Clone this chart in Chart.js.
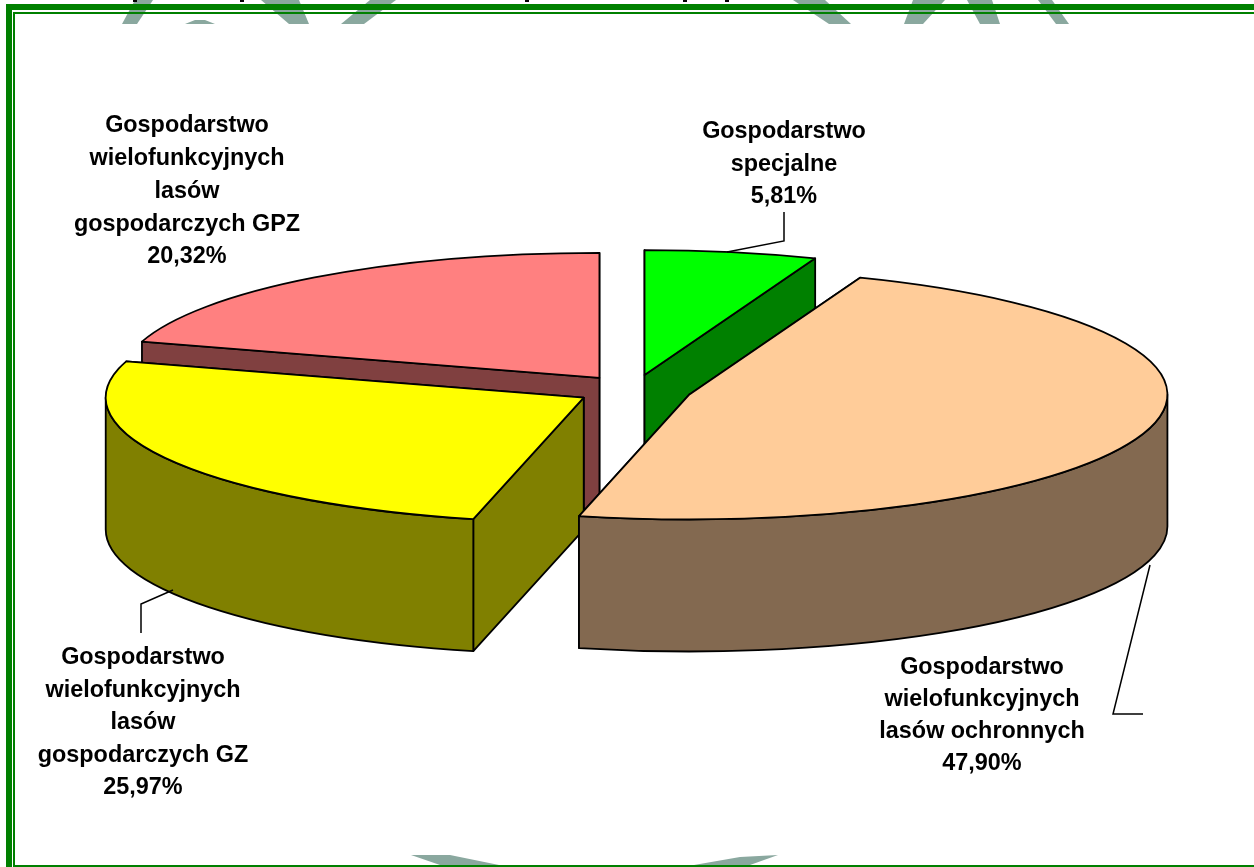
<!DOCTYPE html>
<html lang="pl">

<head>
    <meta charset="UTF-8">
    <title>Gospodarstwa</title>
    <script src="https://cdn.jsdelivr.net/npm/chart.js"></script>
    <style>
        html, body {
            margin: 0;
            background: #ffffff;
            overflow: hidden;
        }

        canvas {
            display: block;
        }
    </style>
</head>

<body>
    <canvas id="pieChart" width="1254" height="867"></canvas>

    <script>
        // slices clockwise from the top
        const categoryLines = [
            ['Gospodarstwo', 'specjalne'],
            ['Gospodarstwo', 'wielofunkcyjnych', 'lasów ochronnych'],
            ['Gospodarstwo', 'wielofunkcyjnych', 'lasów', 'gospodarczych GZ'],
            ['Gospodarstwo', 'wielofunkcyjnych', 'lasów', 'gospodarczych GPZ']
        ];
        const shares = [5.81, 47.90, 25.97, 20.32];
        const topColors = ['#00ff00', '#ffcc99', '#ffff00', '#ff8080'];
        const wallColors = ['#008000', '#836950', '#808000', '#804040'];

        // 3D look of the pie
        const TILT = 0.2615;
        const DEPTH = 132;
        const EXPLODE = 58;
        const LINE = 1.8;
        // back slices go first so the front ones cover them
        const paintOrder = [3, 0, 2, 1];

        // where each label block goes: centre x, y of first line, line height
        const labelPlace = [
            { x: 784, y: 132, step: 32.5 },
            { x: 982, y: 668, step: 32 },
            { x: 143, y: 658, step: 32.5 },
            { x: 187, y: 126, step: 32.7 }
        ];
        const leaders = [
            [[727, 252], [784, 241], [784, 212]],
            [[1150, 565], [1113, 714], [1143, 714]],
            [[173, 590], [141, 604], [141, 633]],
            []
        ];

        // bits of the page watermark showing through the slide
        const watermark = [
            [[135, 0], [153, 0], [137, 24], [122, 24]],
            [[185, 24], [195, 20], [205, 20], [215, 24]],
            [[261, 0], [299, 0], [309, 24], [289, 24]],
            [[370, 0], [396, 0], [364, 24], [341, 24]],
            [[793, 0], [825, 0], [851, 24], [829, 24]],
            [[913, 0], [945, 0], [923, 24], [904, 24]],
            [[967, 0], [992, 0], [1000, 24], [980, 24]],
            [[1038, 0], [1052, 0], [1069, 24], [1056, 24]],
            [[411, 855], [450, 855], [499, 865], [440, 865]],
            [[694, 865], [740, 857], [778, 855], [750, 865]]
        ];
        // tails of the cut off line of text above the frame
        const textTails = [133, 240, 525, 683, 725];

        function polygon(ctx, pts) {
            ctx.beginPath();
            pts.forEach((p, i) => i ? ctx.lineTo(p[0], p[1]) : ctx.moveTo(p[0], p[1]));
            ctx.closePath();
        }

        const slidePlugin = {
            id: 'slide',
            beforeDraw(chart) {
                const ctx = chart.ctx;
                ctx.save();
                ctx.fillStyle = '#8aa89f';
                watermark.forEach(w => {
                    polygon(ctx, w);
                    ctx.fill();
                });
                ctx.fillStyle = '#000000';
                textTails.forEach(x => ctx.fillRect(x, 0, 4, 2));
                // double green frame, the right side is cut off
                ctx.fillStyle = '#008000';
                ctx.fillRect(6, 4, 1248, 6);
                ctx.fillRect(6, 4, 6, 863);
                ctx.fillRect(13, 12, 1241, 2);
                ctx.fillRect(13, 12, 2, 855);
                ctx.fillRect(13, 865, 1241, 2);
                ctx.restore();
            }
        };

        const pie3dPlugin = {
            id: 'pie3d',
            beforeDatasetDraw(chart, args) {
                const ctx = chart.ctx;
                paintOrder.forEach(i => {
                    const arc = args.meta.data[i];
                    const R = arc.outerRadius;
                    const mid = (arc.startAngle + arc.endAngle) / 2;
                    const ax = arc.x + Math.cos(mid) * EXPLODE;
                    const ay = arc.y + Math.sin(mid) * EXPLODE * TILT;
                    const rim = a => [ax + Math.cos(a) * R, ay + Math.sin(a) * R * TILT];

                    ctx.save();
                    ctx.strokeStyle = '#000000';
                    ctx.lineWidth = LINE;
                    ctx.lineJoin = 'round';
                    ctx.fillStyle = wallColors[i];

                    // flat side walls, the one further back first
                    [arc.startAngle, arc.endAngle]
                        .map(rim)
                        .sort((p, q) => p[1] - q[1])
                        .forEach(p => {
                            polygon(ctx, [[ax, ay], p, [p[0], p[1] + DEPTH], [ax, ay + DEPTH]]);
                            ctx.fill();
                            ctx.stroke();
                        });

                    // curved wall, only the part that faces the viewer
                    const a0 = Math.max(arc.startAngle, 0);
                    const a1 = Math.min(arc.endAngle, Math.PI);
                    if (a1 > a0) {
                        ctx.beginPath();
                        ctx.ellipse(ax, ay, R, R * TILT, 0, a0, a1);
                        ctx.ellipse(ax, ay + DEPTH, R, R * TILT, 0, a1, a0, true);
                        ctx.closePath();
                        ctx.fill();
                        ctx.stroke();
                    }
                    ctx.restore();

                    // top face: the library's own arc, squashed
                    ctx.save();
                    ctx.translate(ax, ay);
                    ctx.scale(1, TILT);
                    ctx.translate(-arc.x, -arc.y);
                    arc.draw(ctx);
                    ctx.restore();

                    ctx.save();
                    ctx.strokeStyle = '#000000';
                    ctx.lineWidth = LINE;
                    ctx.lineJoin = 'round';
                    ctx.beginPath();
                    ctx.moveTo(ax, ay);
                    ctx.ellipse(ax, ay, R, R * TILT, 0, arc.startAngle, arc.endAngle);
                    ctx.closePath();
                    ctx.stroke();
                    ctx.restore();
                });
                return false;
            },
            afterDraw(chart) {
                const ctx = chart.ctx;
                ctx.save();
                ctx.strokeStyle = '#000000';
                ctx.lineWidth = 1.5;
                leaders.forEach(l => {
                    if (!l.length) return;
                    ctx.beginPath();
                    l.forEach((p, i) => i ? ctx.lineTo(p[0], p[1]) : ctx.moveTo(p[0], p[1]));
                    ctx.stroke();
                });
                ctx.fillStyle = '#000000';
                ctx.font = 'bold 23.4px "Liberation Sans", Arial, sans-serif';
                ctx.textAlign = 'center';
                ctx.textBaseline = 'middle';
                categoryLines.forEach((lines, i) => {
                    const place = labelPlace[i];
                    const text = lines.concat(shares[i].toFixed(2).replace('.', ',') + '%');
                    text.forEach((t, n) => ctx.fillText(t, place.x, place.y + n * place.step));
                });
                ctx.restore();
            }
        };

        const pieChart = new Chart(document.getElementById('pieChart').getContext('2d'), {
            type: 'pie',
            data: {
                labels: categoryLines.map(l => l.join(' ')),
                datasets: [{
                    data: shares,
                    backgroundColor: topColors,
                    borderWidth: 0,
                    radius: 478
                }]
            },
            options: {
                responsive: false,
                animation: false,
                events: [],
                layout: { padding: { left: 14, bottom: 87 } },
                plugins: {
                    legend: { display: false },
                    tooltip: { enabled: false }
                }
            },
            plugins: [slidePlugin, pie3dPlugin]
        });
    </script>

</body>

</html>
